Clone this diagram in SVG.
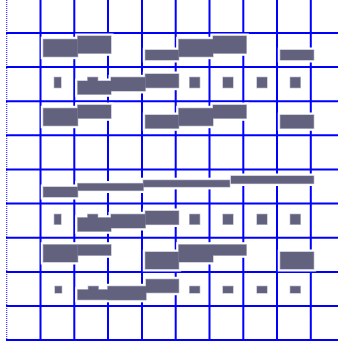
<svg xmlns="http://www.w3.org/2000/svg" width="338" height="347" viewBox="0 0 338 347">
<style>
.g{stroke:#0000ff;stroke-width:2;fill:none}
.edge{stroke:#3333ff;stroke-width:1.2;stroke-dasharray:1 1;fill:none}
.halo{fill:#fff;stroke:#fff;stroke-width:5}
.rim{fill:none;stroke:#b4b4cc;stroke-width:1.2}
.bar{fill:#62627f}
</style>
<defs>
<g id="bars">
<!-- row 1 -->
<rect x="43.3" y="39.3" width="34.4" height="17.4"/>
<rect x="77.7" y="36" width="33.3" height="17.3"/>
<rect x="145.3" y="50" width="33.4" height="10"/>
<rect x="178.7" y="39.3" width="34.3" height="17.4"/>
<rect x="213" y="36" width="33.3" height="17.3"/>
<rect x="280.3" y="50" width="33.4" height="10"/>
<!-- row 2 -->
<rect x="54.3" y="77.3" width="6.7" height="10.4"/>
<rect x="87.7" y="77.3" width="10" height="5"/>
<rect x="77.7" y="81" width="33.3" height="13.3"/>
<rect x="111" y="77.3" width="34.3" height="13.7"/>
<rect x="145.3" y="74" width="33.4" height="13.7"/>
<rect x="189.7" y="77.3" width="10" height="10.4"/>
<rect x="223" y="77.3" width="10" height="10.4"/>
<rect x="257" y="77.3" width="10" height="10.4"/>
<rect x="290.3" y="77.3" width="10" height="10.4"/>
<!-- row 3 -->
<rect x="43.3" y="108.3" width="34.4" height="17.4"/>
<rect x="77.7" y="105" width="33.3" height="13.3"/>
<rect x="145.3" y="115" width="33.4" height="13.3"/>
<rect x="178.7" y="108.3" width="34.3" height="17.4"/>
<rect x="213" y="105" width="33.3" height="13.3"/>
<rect x="280.3" y="115" width="33.4" height="13.3"/>
<!-- row 5 -->
<rect x="43.3" y="187" width="34.4" height="10"/>
<rect x="77.7" y="183.5" width="65.6" height="7"/>
<rect x="143.3" y="180.2" width="86.4" height="6.7"/>
<rect x="231" y="176" width="82.7" height="7.5"/>
<!-- row 6 -->
<rect x="54.3" y="214.3" width="6.7" height="10"/>
<rect x="87.7" y="214.3" width="10" height="5"/>
<rect x="77.7" y="217.7" width="33.3" height="13.6"/>
<rect x="111" y="214.3" width="34.3" height="13.7"/>
<rect x="145.3" y="211" width="33.4" height="13.5"/>
<rect x="189.7" y="214.3" width="10" height="10"/>
<rect x="223" y="214.3" width="10" height="10"/>
<rect x="257" y="214.3" width="10" height="10"/>
<rect x="290.3" y="214.3" width="10" height="10"/>
<!-- row 7 -->
<rect x="43.3" y="244.7" width="34.4" height="17.3"/>
<rect x="77.7" y="244.7" width="33.3" height="10.6"/>
<rect x="145.3" y="252" width="33.4" height="17"/>
<rect x="178.7" y="244.7" width="34.3" height="17.3"/>
<rect x="213" y="244.7" width="33.3" height="10.6"/>
<rect x="280.3" y="252" width="33.4" height="17"/>
<!-- row 8 -->
<rect x="55" y="286.3" width="6.7" height="6.7"/>
<rect x="88.3" y="286.3" width="10" height="5"/>
<rect x="77.7" y="289.7" width="68.3" height="10"/>
<rect x="107.7" y="286.3" width="38.3" height="13.4"/>
<rect x="146" y="279.3" width="32.7" height="13.4"/>
<rect x="189.7" y="286.3" width="10" height="6.7"/>
<rect x="223" y="286.3" width="10" height="6.7"/>
<rect x="257" y="286.3" width="10" height="6.7"/>
<rect x="290.3" y="286.3" width="10" height="6.7"/>
</g>
</defs>
<rect x="0" y="0" width="338" height="347" fill="#fff"/>
<g id="grid">
<line class="edge" x1="6.7" y1="0" x2="6.7" y2="341"/>
<line class="g" x1="40.5" y1="0" x2="40.5" y2="341"/>
<line class="g" x1="74.3" y1="0" x2="74.3" y2="341"/>
<line class="g" x1="108" y1="0" x2="108" y2="341"/>
<line class="g" x1="142" y1="0" x2="142" y2="341"/>
<line class="g" x1="175.7" y1="0" x2="175.7" y2="341"/>
<line class="g" x1="209.5" y1="0" x2="209.5" y2="341"/>
<line class="g" x1="243.3" y1="0" x2="243.3" y2="341"/>
<line class="g" x1="277" y1="0" x2="277" y2="341"/>
<line class="g" x1="310.8" y1="0" x2="310.8" y2="341"/>
<line class="g" x1="6" y1="33" x2="338" y2="33"/>
<line class="g" x1="6" y1="67.1" x2="338" y2="67.1"/>
<line class="g" x1="6" y1="101.2" x2="338" y2="101.2"/>
<line class="g" x1="6" y1="135.3" x2="338" y2="135.3"/>
<line class="g" x1="6" y1="169.4" x2="338" y2="169.4"/>
<line class="g" x1="6" y1="203.6" x2="338" y2="203.6"/>
<line class="g" x1="6" y1="237.8" x2="338" y2="237.8"/>
<line class="g" x1="6" y1="272" x2="338" y2="272"/>
<line class="g" x1="6" y1="306" x2="338" y2="306"/>
<line class="g" x1="6" y1="340" x2="338" y2="340"/>
</g>
<g id="blocks">
<use href="#bars" class="halo"/>
<use href="#bars" class="rim"/>
<use href="#bars" class="bar"/>
</g>
</svg>
